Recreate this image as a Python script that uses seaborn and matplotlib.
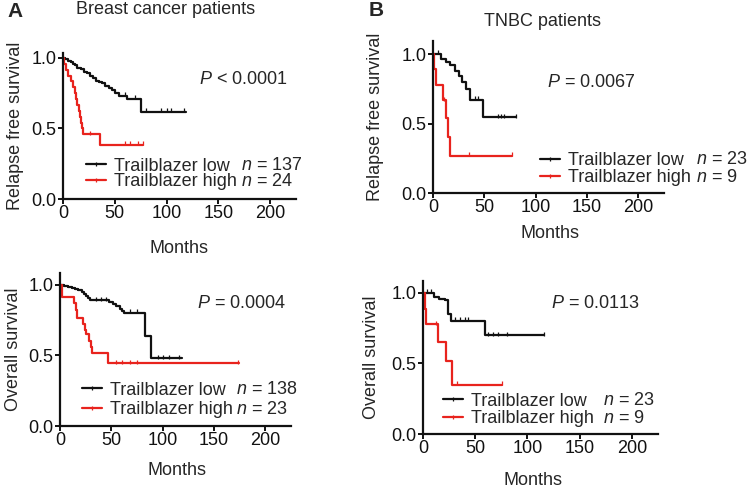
import matplotlib
matplotlib.use("Agg")
import matplotlib.pyplot as plt
from matplotlib.lines import Line2D
import numpy as np
import pandas as pd
import seaborn as sns

W, H = 752, 498
BLACK = "#111111"
RED = "#e8231d"
FS = 13

# ---- values: months / survival fraction ----
# A, relapse free survival (breast cancer patients)
rfs_all_low_t = [0, 2, 5, 8, 10, 12, 14, 17, 20, 23, 26, 29, 32, 35, 38, 41, 44, 47, 50, 54, 62, 75]
rfs_all_low_s = [1.0, 0.99, 0.98, 0.97, 0.96, 0.95, 0.93, 0.92, 0.90, 0.89, 0.87, 0.86, 0.84, 0.83,
                 0.82, 0.80, 0.79, 0.77, 0.75, 0.73, 0.71, 0.62]
rfs_all_low_end = 119
rfs_all_low_cens = [60, 70, 80, 95, 100, 104, 117]
rfs_all_high_t = [0, 1, 3, 5, 8, 10, 12, 13, 14, 15, 16, 17, 18, 19, 36]
rfs_all_high_s = [1.0, 0.958, 0.917, 0.875, 0.833, 0.792, 0.75, 0.708, 0.667, 0.625, 0.583,
                  0.542, 0.5, 0.458, 0.382]
rfs_all_high_end = 77
rfs_all_high_cens = [26, 60, 65, 72, 77]

# A, overall survival
os_all_low_t = [0, 4, 8, 12, 15, 18, 21, 23, 25, 27, 29, 48, 52, 55, 58, 60, 62, 83, 89]
os_all_low_s = [1.0, 0.993, 0.985, 0.978, 0.97, 0.962, 0.95, 0.935, 0.92, 0.905, 0.89, 0.878,
                0.865, 0.85, 0.83, 0.815, 0.80, 0.64, 0.48]
os_all_low_end = 119
os_all_low_cens = [35, 40, 45, 68, 75, 95, 100, 106, 116]
os_all_high_t = [0, 2, 14, 16, 17, 22, 24, 25, 28, 30, 31, 47]
os_all_high_s = [1.0, 0.913, 0.87, 0.826, 0.765, 0.72, 0.68, 0.65, 0.6, 0.56, 0.52, 0.445]
os_all_high_end = 174
os_all_high_cens = [55, 60, 68, 75, 173]

# B, relapse free survival (TNBC patients)
rfs_tnbc_low_t = [0, 8, 13, 17, 21, 25, 28, 32, 36, 49]
rfs_tnbc_low_s = [1.0, 0.965, 0.945, 0.92, 0.88, 0.845, 0.80, 0.745, 0.67, 0.545]
rfs_tnbc_low_end = 81
rfs_tnbc_low_cens = [5, 41, 44, 63, 66, 69, 81]
rfs_tnbc_high_t = [0, 1, 3, 10, 13, 15, 17]
rfs_tnbc_high_s = [1.0, 0.889, 0.778, 0.667, 0.54, 0.405, 0.268]
rfs_tnbc_high_end = 77
rfs_tnbc_high_cens = [11, 35, 77]

# B, overall survival
os_tnbc_low_t = [0, 11, 15, 21, 24, 27, 59]
os_tnbc_low_s = [1.0, 0.975, 0.96, 0.95, 0.85, 0.80, 0.70]
os_tnbc_low_end = 116
os_tnbc_low_cens = [4, 8, 31, 35, 40, 43, 62, 67, 72, 80, 116]
os_tnbc_high_t = [0, 2, 3, 14, 22, 28]
os_tnbc_high_s = [1.0, 0.889, 0.778, 0.65, 0.52, 0.347]
os_tnbc_high_end = 76
os_tnbc_high_cens = [12, 33, 76]

sns.set_theme(style="ticks")
plt.rcParams["font.family"] = ["Liberation Sans", "DejaVu Sans"]
plt.rcParams["mathtext.fontset"] = "custom"
plt.rcParams["mathtext.rm"] = "Liberation Sans"
plt.rcParams["mathtext.it"] = "Liberation Sans:italic"


def px(x, y):
    return x / W, 1 - y / H


def km(ax, t, s, end, cens, color):
    df = pd.DataFrame({"time": t + [end], "surv": s + [s[-1]]})
    sns.lineplot(data=df, x="time", y="surv", drawstyle="steps-post", color=color,
                 linewidth=1.6, errorbar=None, ax=ax)
    idx = np.searchsorted(t, cens, side="right") - 1
    ax.plot(cens, np.array(s)[idx] + 0.012, ls="none", marker="|", color=color,
            markersize=3, markeredgewidth=0.9)


def panel(rect, ymax, curves, ylabel, ylab_x, xlab_y, xlab_x, ptext, ppos, names, npos, nx, leg):
    l, b, w, h = rect
    ax = fig.add_axes([l / W, (H - b) / H, w / W, h / H])
    for t, s, end, cens, color in curves:
        km(ax, t, s, end, cens, color)
    ax.set_xlim(0, 225)
    ax.set_ylim(0, ymax)
    ax.set_xticks([0, 50, 100, 150, 200])
    ax.set_yticks([0, 0.5, 1.0])
    ax.set_yticklabels(["0.0", "0.5", "1.0"])
    sns.despine(ax=ax)
    for side in ["left", "bottom"]:
        ax.spines[side].set_linewidth(1.6)
        ax.spines[side].set_color(BLACK)
    ax.tick_params(direction="out", length=3.6, width=1.4, labelsize=FS, pad=1, colors=BLACK)
    ax.set_xlabel("Months", fontsize=FS)
    ax.xaxis.set_label_coords(xlab_x, xlab_y)
    ax.set_ylabel(ylabel, fontsize=FS, va="center")
    ax.yaxis.set_label_coords(ylab_x, 0.5)
    fig.text(*px(*ppos), ptext, fontsize=FS, ha="left", va="center")
    handles = [Line2D([], [], color=c, lw=1.6, marker="|", markersize=3, markeredgewidth=0.9)
               for c in (BLACK, RED)]
    lx, ly, pitch = leg
    ax.legend(handles, names, loc="center left", bbox_to_anchor=px(lx, ly),
              bbox_transform=fig.transFigure, frameon=False, fontsize=FS,
              handlelength=1.1, handletextpad=0.45, labelspacing=(pitch - 17.5) / 18,
              borderpad=0, borderaxespad=0)
    for label, yy in zip(npos, [ly - pitch / 2 - 2.5, ly + pitch / 2 - 2.5]):
        fig.text(*px(nx, yy), label, fontsize=FS, ha="left", va="center_baseline")
    return ax


fig = plt.figure(figsize=(W / 100, H / 100), dpi=100)

panel((63, 199, 233, 146), 1.035,
      [(rfs_all_low_t, rfs_all_low_s, rfs_all_low_end, rfs_all_low_cens, BLACK),
       (rfs_all_high_t, rfs_all_high_s, rfs_all_high_end, rfs_all_high_cens, RED)],
      "Relapse free survival", -0.205, -0.28, 0.5,
      "$P$ < 0.0001", (199, 80),
      ["Trailblazer low", "Trailblazer high"], ["$n$ = 137", "$n$ = 24"], 241,
      (86, 174, 16))

panel((60, 426, 231, 153), 1.085,
      [(os_all_low_t, os_all_low_s, os_all_low_end, os_all_low_cens, BLACK),
       (os_all_high_t, os_all_high_s, os_all_high_end, os_all_high_cens, RED)],
      "Overall survival", -0.203, -0.235, 0.506,
      "$P$ = 0.0004", (197, 303),
      ["Trailblazer low", "Trailblazer high"], ["$n$ = 138", "$n$ = 23"], 236,
      (82, 400, 20))

panel((433, 193, 231, 152), 1.094,
      [(rfs_tnbc_low_t, rfs_tnbc_low_s, rfs_tnbc_low_end, rfs_tnbc_low_cens, BLACK),
       (rfs_tnbc_high_t, rfs_tnbc_high_s, rfs_tnbc_high_end, rfs_tnbc_high_cens, RED)],
      "Relapse free survival", -0.25, -0.21, 0.506,
      "$P$ = 0.0067", (547, 82),
      ["Trailblazer low", "Trailblazer high"], ["$n$ = 23", "$n$ = 9"], 696,
      (540, 169, 17.7))

panel((423, 434, 235, 153), 1.085,
      [(os_tnbc_low_t, os_tnbc_low_s, os_tnbc_low_end, os_tnbc_low_cens, BLACK),
       (os_tnbc_high_t, os_tnbc_high_s, os_tnbc_high_end, os_tnbc_high_cens, RED)],
      "Overall survival", -0.22, -0.25, 0.466,
      "$P$ = 0.0113", (551, 303),
      ["Trailblazer low", "Trailblazer high"], ["$n$ = 23", "$n$ = 9"], 603,
      (443, 410, 18.3))

fig.text(*px(15, 11.5), "A", fontsize=15, weight="bold", ha="center", va="center")
fig.text(*px(376, 11), "B", fontsize=15, weight="bold", ha="center", va="center")
fig.text(*px(166, 10), "Breast cancer patients", fontsize=FS, ha="center", va="center")
fig.text(*px(543, 21), "TNBC patients", fontsize=FS, ha="center", va="center")

fig.savefig("out.png", dpi=100)
